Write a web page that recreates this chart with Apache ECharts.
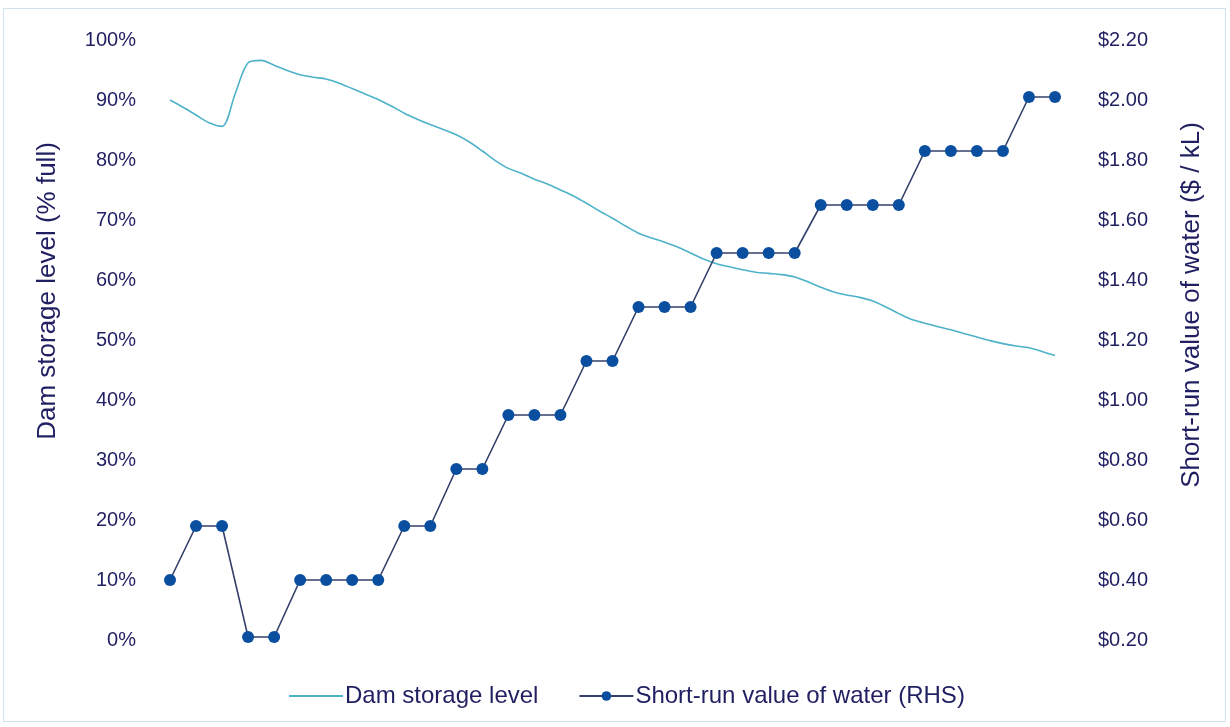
<!DOCTYPE html>
<html>
<head>
<meta charset="utf-8">
<script src="https://cdn.jsdelivr.net/npm/echarts@6/dist/echarts.min.js"></script>
<style>
  html, body { margin: 0; padding: 0; background: #fff; }
  #frame {
    position: absolute; left: 3px; top: 8px; width: 1223px; height: 714px;
    border: 1px solid #d3e3ee; box-sizing: border-box;
  }
  #chart { position: absolute; left: 0; top: 0; width: 1230px; height: 727px; }
</style>
</head>
<body>
<div id="frame"></div>
<div id="chart"></div>
<script>
// Short-run value of water ($/kL), one point per period
const waterValue = [
  0.40, 0.58, 0.58, 0.21, 0.21, 0.40, 0.40, 0.40, 0.40, 0.58,
  0.58, 0.77, 0.77, 0.95, 0.95, 0.95, 1.13, 1.13, 1.31, 1.31,
  1.31, 1.49, 1.49, 1.49, 1.49, 1.65, 1.65, 1.65, 1.65, 1.83,
  1.83, 1.83, 1.83, 2.01, 2.01
];

// Dam storage level (% full), sampled twice per period
const damLevel = [
  90.0, 88.8, 87.5, 86.2, 85.6, 91.0, 96.2, 96.6, 95.8, 94.9,
  94.2, 93.8, 93.5, 92.8, 91.9, 91.0, 90.1, 89.0, 87.8, 86.8,
  85.9, 85.1, 84.2, 83.0, 81.5, 79.9, 78.6, 77.8, 76.8, 76.0,
  75.0, 74.0, 72.8, 71.5, 70.3, 69.0, 67.8, 67.0, 66.3, 65.5,
  64.5, 63.5, 62.7, 62.2, 61.7, 61.3, 61.1, 60.9, 60.5, 59.7,
  58.8, 58.0, 57.5, 57.1, 56.5, 55.5, 54.4, 53.4, 52.8, 52.2,
  51.7, 51.1, 50.5, 49.9, 49.4, 49.0, 48.7, 48.1, 47.4
];

const periods = waterValue.map((v, i) => String(i + 1));
const halfPeriods = damLevel.map((v, i) => String(i / 2 + 1));

const seriesNames = ["Dam storage level", "Short-run value of water (RHS)"];
const leftTitle = "Dam storage level (% full)";
const rightTitle = "Short-run value of water ($ / kL)";

const textColor = "#1f1f62";
const font = "Liberation Sans, Arial, sans-serif";

const chart = echarts.init(document.getElementById("chart"));

const option = {
  animation: false,
  grid: { left: 170, right: 175, top: 40, bottom: 87, containLabel: false },
  xAxis: [
    {
      type: "category", data: periods, boundaryGap: false,
      axisLine: { show: false }, axisTick: { show: false },
      axisLabel: { show: false }, splitLine: { show: false }
    },
    {
      type: "category", data: halfPeriods, boundaryGap: false,
      axisLine: { show: false }, axisTick: { show: false },
      axisLabel: { show: false }, splitLine: { show: false }
    }
  ],
  yAxis: [
    {
      type: "value", min: 0, max: 100, interval: 10,
      axisLine: { show: false }, axisTick: { show: false },
      splitLine: { show: false },
      axisLabel: {
        margin: 34, color: textColor, fontSize: 20, fontFamily: font,
        formatter: "{value}%"
      }
    },
    {
      type: "value", min: 0.2, max: 2.2, interval: 0.2,
      axisLine: { show: false }, axisTick: { show: false },
      splitLine: { show: false },
      axisLabel: {
        margin: 43, color: textColor, fontSize: 20, fontFamily: font,
        formatter: v => "$" + v.toFixed(2)
      }
    }
  ],
  legend: {
    left: 283, top: 679,
    itemWidth: 54, itemHeight: 12, itemGap: 40,
    textStyle: { color: textColor, fontSize: 24, fontFamily: font, padding: [0, 0, 0, -3] },
    data: [
      { name: seriesNames[0], itemStyle: { opacity: 0 } },
      { name: seriesNames[1] }
    ]
  },
  graphic: [
    {
      type: "text", x: 48, y: 291, rotation: Math.PI / 2,
      style: {
        text: leftTitle, fill: textColor, fontSize: 26, fontFamily: font,
        textAlign: "center", textVerticalAlign: "middle"
      }
    },
    {
      type: "text", x: 1192, y: 305, rotation: Math.PI / 2,
      style: {
        text: rightTitle, fill: textColor, fontSize: 26, fontFamily: font,
        textAlign: "center", textVerticalAlign: "middle"
      }
    }
  ],
  series: [
    {
      name: seriesNames[0],
      type: "line",
      xAxisIndex: 1, yAxisIndex: 0,
      data: damLevel,
      smooth: 0.3,
      showSymbol: false, symbol: "none",
      lineStyle: { color: "#4eb2c8", width: 1.6 },
      itemStyle: { color: "#4eb2c8" },
      z: 2
    },
    {
      name: seriesNames[1],
      type: "line",
      xAxisIndex: 0, yAxisIndex: 1,
      data: waterValue,
      symbol: "circle", symbolSize: 12,
      lineStyle: { color: "#34406a", width: 1.6 },
      itemStyle: { color: "#0a4f9f" },
      z: 3
    }
  ]
};

chart.setOption(option);
</script>
</body>
</html>
